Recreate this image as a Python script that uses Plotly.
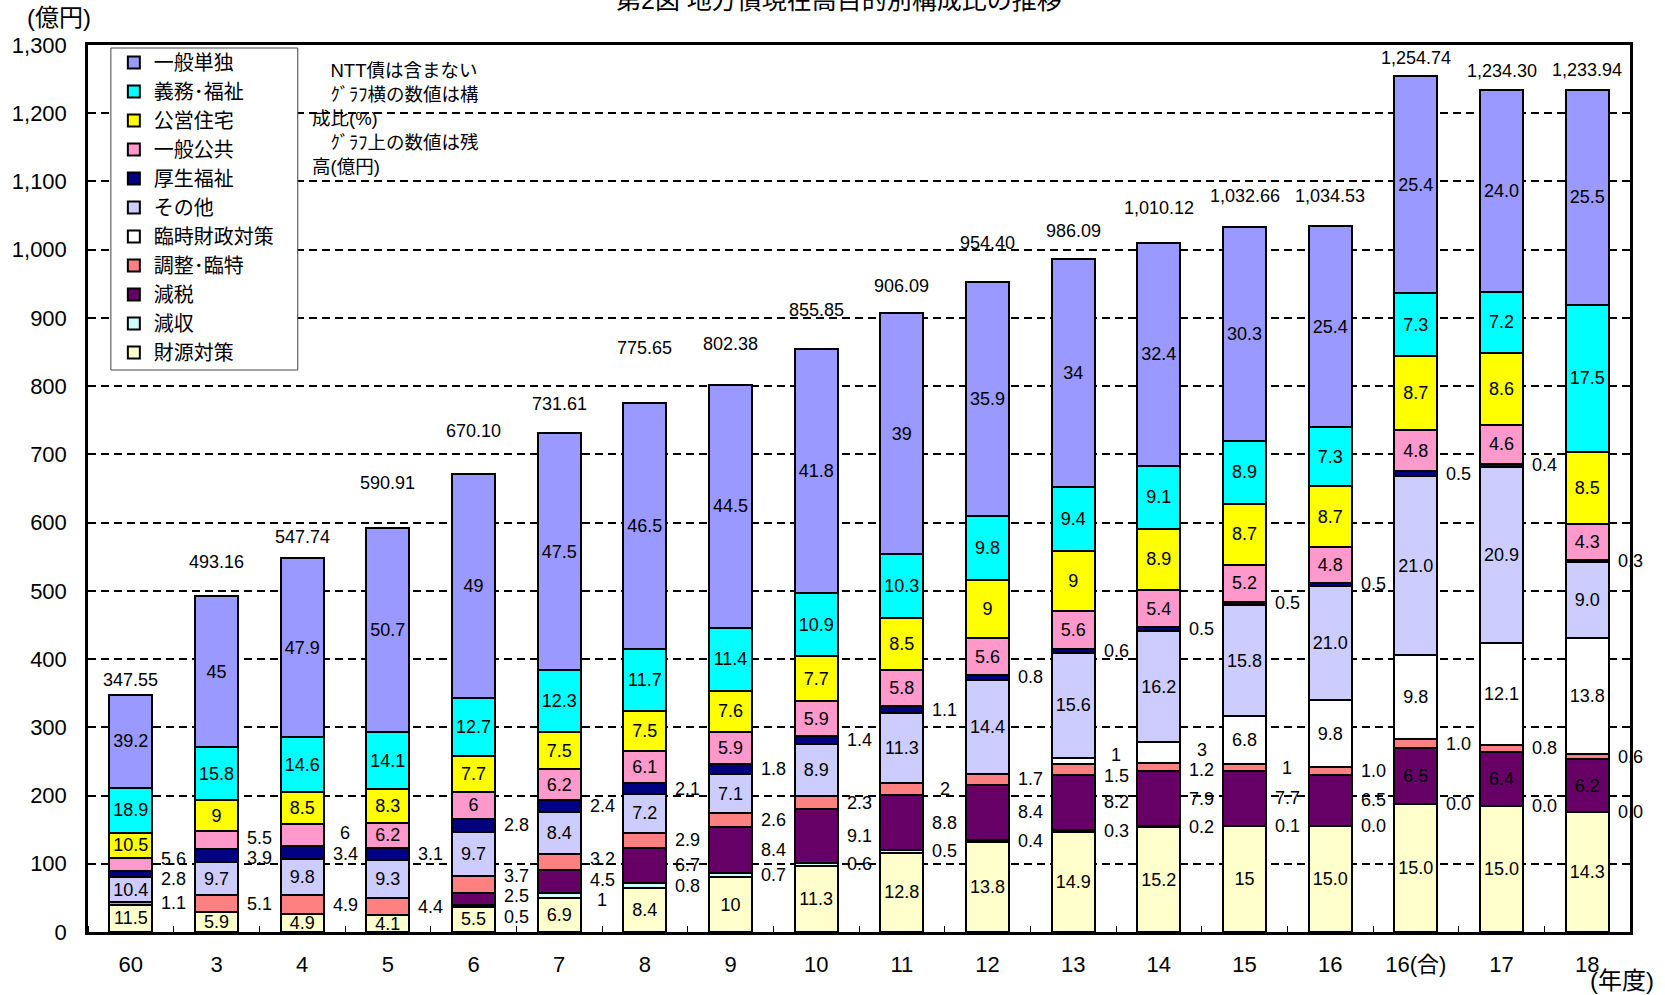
import plotly.graph_objects as go

# ---------------- data ----------------
categories = ["60", "3", "4", "5", "6", "7", "8", "9", "10", "11", "12", "13",
              "14", "15", "16", "16(合)", "17", "18"]
totals = [347.55, 493.16, 547.74, 590.91, 670.10, 731.61, 775.65, 802.38, 855.85,
          906.09, 954.40, 986.09, 1010.12, 1032.66, 1034.53, 1254.74, 1234.30, 1233.94]

# composition ratios (%) per purpose as drawn, bottom of stack first
zaigen_taisaku = [11.5, 5.9, 4.9, 4.1, 5.5, 6.9, 8.4, 10, 11.3, 12.8, 13.8, 14.9, 15.2, 15, 15.0, 15.0, 15.0, 14.3]
genshu = [None, None, None, None, 0.5, 1, 0.8, 0.7, 0.6, 0.5, 0.4, 0.3, 0.2, 0.1, 0.0, 0.0, 0.0, 0.0]
genzei = [None, None, None, None, 2.5, 4.5, 6.7, 8.4, 9.1, 8.8, 8.4, 8.2, 7.9, 7.7, 7.3, 6.5, 6.4, 6.2]
chosei_rintoku = [1.1, 5.1, 4.9, 4.4, 3.7, 3.2, 2.9, 2.6, 2.3, 2, 1.7, 1.5, 1.2, 1, 1.1, 1.0, 0.8, 0.6]
rinji_zaisei = [None] * 11 + [1, 3, 6.8, 9.4, 9.8, 12.1, 13.8]
sonota = [10.4, 9.7, 9.8, 9.3, 9.7, 8.4, 7.2, 7.1, 8.9, 11.3, 14.4, 15.6, 16.2, 15.8, 16.2, 21.0, 20.9, 9.0]
kosei_fukushi = [2.8, 3.9, 3.4, 3.1, 2.8, 2.4, 2.1, 1.8, 1.4, 1.1, 0.8, 0.6, 0.5, 0.5, 0.5, 0.5, 0.4, 0.3]
ippan_kokyo = [5.6, 5.5, 6, 6.2, 6, 6.2, 6.1, 5.9, 5.9, 5.8, 5.6, 5.6, 5.4, 5.2, 5.0, 4.8, 4.6, 4.3]
koei_jutaku = [10.5, 9, 8.5, 8.3, 7.7, 7.5, 7.5, 7.6, 7.7, 8.5, 9, 9, 8.9, 8.7, 8.7, 8.7, 8.6, 8.5]
gimu_fukushi = [18.9, 15.8, 14.6, 14.1, 12.7, 12.3, 11.7, 11.4, 10.9, 10.3, 9.8, 9.4, 9.1, 8.9, 8.3, 7.3, 7.2, 17.5]
ippan_tandoku = [39.2, 45, 47.9, 50.7, 49, 47.5, 46.5, 44.5, 41.8, 39, 35.9, 34, 32.4, 30.3, 28.5, 25.4, 24.0, 25.5]

# ratios printed on the FY16 bar in the source chart (same figures as 16(合)), bottom first
printed_fy16 = [15.0, 0.0, 6.5, 1.0, 9.8, 21.0, 0.5, 4.8, 8.7, 7.3, 25.4]
FY16_INDEX = 14

series = [
    ("財源対策", zaigen_taisaku),
    ("減収", genshu),
    ("減税", genzei),
    ("調整･臨特", chosei_rintoku),
    ("臨時財政対策", rinji_zaisei),
    ("その他", sonota),
    ("厚生福祉", kosei_fukushi),
    ("一般公共", ippan_kokyo),
    ("公営住宅", koei_jutaku),
    ("義務･福祉", gimu_fukushi),
    ("一般単独", ippan_tandoku),
]

# ---------------- style ----------------
colors = {
    "財源対策": "#FFFFCC", "減収": "#CCFFFF", "減税": "#660066", "調整･臨特": "#FF8080",
    "臨時財政対策": "#FFFFFF", "その他": "#CCCCFF", "厚生福祉": "#000080",
    "一般公共": "#FF99CC", "公営住宅": "#FFFF00", "義務･福祉": "#00FFFF", "一般単独": "#9999FF",
}
# first category index from which the ratio label is written inside the bar (None = always beside)
inside_from = {
    "財源対策": 0, "減収": None, "減税": 15, "調整･臨特": None, "臨時財政対策": 13,
    "その他": 0, "厚生福祉": None, "一般公共": 3, "公営住宅": 0, "義務･福祉": 0, "一般単独": 0,
}
total_lift = [15, 34, 21, 46, 44, 29, 55, 41, 38, 28, 38, 28, 35, 31, 30, 18, 19, 20]

FONT = "Liberation Sans, Arial, Noto Sans CJK JP, sans-serif"
W, H = 1665, 995
L, R, T, B = 79, 35, 45, 63
PW, PH = W - L - R, H - T - B
YMAX = 1300


def px(xpix):
    return (xpix - L) / PW


def py(ypix):
    return (H - B - ypix) / PH


def fmt(v, i):
    return f"{v:.1f}" if i >= 14 else f"{v:g}"


fig = go.Figure()
x = list(range(len(categories)))
side_labels = {i: [] for i in x}
base = [0.0] * len(categories)

for k, (name, vals) in enumerate(series):
    heights, texts = [], []
    for i, v in enumerate(vals):
        if v is None:
            heights.append(None)
            texts.append("")
            continue
        h = totals[i] * v / 100.0
        heights.append(h)
        shown = printed_fy16[k] if i == FY16_INDEX else v
        start = inside_from[name]
        if start is not None and i >= start:
            texts.append(fmt(shown, i))
        else:
            texts.append("")
            side_labels[i].append((base[i] + h / 2.0, fmt(shown, i)))
        base[i] += h
    fig.add_trace(go.Bar(
        x=x, y=heights, name=name, legendgroup=name,
        marker=dict(color=colors[name], line=dict(color="black", width=2)),
        text=texts, textposition="inside", insidetextanchor="middle", textangle=0,
        textfont=dict(family=FONT, size=18, color="black"),
        width=0.5, hoverinfo="skip",
    ))


def spread(targets, gap, lo):
    clusters = [[t] for t in sorted(targets)]

    def place(c):
        n = len(c)
        center = sum(c) / n
        bottom = max(center - (n - 1) * gap / 2.0, lo)
        return [bottom + k * gap for k in range(n)]

    changed = True
    while changed:
        changed = False
        for j in range(len(clusters) - 1):
            a, b = place(clusters[j]), place(clusters[j + 1])
            if a[-1] + gap > b[0]:
                clusters[j] = clusters[j] + clusters[j + 1]
                del clusters[j + 1]
                changed = True
                break
    out = []
    for c in clusters:
        out += place(c)
    return out


annotations = []
for i in x:
    labs = sorted(side_labels[i], key=lambda t: t[0])
    if labs:
        ys = spread([t[0] for t in labs], 30.0, 15.0)
        for (yt, txt), yy in zip(labs, ys):
            annotations.append(dict(x=i + 0.5, y=yy, xref="x", yref="y", text=txt,
                                    showarrow=False, font=dict(family=FONT, size=18, color="black")))
    annotations.append(dict(x=i, y=totals[i], xref="x", yref="y", text=f"{totals[i]:,.2f}",
                            showarrow=False, yshift=total_lift[i], yanchor="middle",
                            font=dict(family=FONT, size=18, color="black")))

annotations += [
    dict(x=px(834), y=py(0), xref="paper", yref="paper", text="第2図 地方債現在高目的別構成比の推移",
         showarrow=False, xanchor="center", yanchor="middle",
         font=dict(family=FONT, size=25, color="black")),
    dict(x=px(50), y=py(18), xref="paper", yref="paper", text="(億円)", showarrow=False,
         xanchor="center", yanchor="middle", font=dict(family=FONT, size=24, color="black")),
    dict(x=px(1622), y=py(980), xref="paper", yref="paper", text="(年度)", showarrow=False,
         xanchor="center", yanchor="middle", font=dict(family=FONT, size=24, color="black")),
    dict(x=px(302), y=py(58), xref="paper", yref="paper", align="left",
         text="　NTT債は含まない<br>　ｸﾞﾗﾌ横の数値は構<br>成比(%)<br>　ｸﾞﾗﾌ上の数値は残<br>高(億円)",
         showarrow=False, xanchor="left", yanchor="top",
         font=dict(family=FONT, size=18.5, color="black")),
]

# legend frame (drawn as a shape so its width matches the original box)
shapes = [dict(type="rect", xref="paper", yref="paper", x0=px(102), x1=px(290), y0=py(370), y1=py(48),
               line=dict(color="#444", width=1), fillcolor="white", layer="above")]

fig.update_layout(
    width=W, height=H,
    margin=dict(l=L, r=R, t=T, b=B, pad=0),
    barmode="stack",
    plot_bgcolor="white", paper_bgcolor="white",
    font=dict(family=FONT, color="black"),
    showlegend=True,
    legend=dict(x=px(105), y=py(43), xanchor="left", yanchor="top",
                traceorder="reversed", bgcolor="rgba(0,0,0,0)", borderwidth=0,
                font=dict(family=FONT, size=20, color="black"), itemclick=False),
    annotations=annotations,
    shapes=shapes,
    uniformtext=dict(minsize=18, mode="show"),
    xaxis=dict(range=[-0.5, len(categories) - 0.5], tickmode="array", tickvals=x, ticktext=categories,
               showgrid=False, zeroline=False, showline=True, linecolor="black", linewidth=2.5,
               mirror=True, ticks="", ticklabelstandoff=11,
               tickfont=dict(family=FONT, size=22, color="black"),
               minor=dict(tickmode="linear", tick0=0.5, dtick=1, ticks="inside", ticklen=6,
                          tickwidth=1, tickcolor="black", showgrid=False)),
    yaxis=dict(range=[0, YMAX], tickmode="linear", tick0=0, dtick=100, tickformat=",d",
               showgrid=True, gridcolor="black", gridwidth=1.5, griddash="8px,5px",
               zeroline=False, showline=True, linecolor="black", linewidth=2.5, mirror=True,
               ticks="", ticklabelstandoff=14,
               tickfont=dict(family=FONT, size=22, color="black")),
)

fig.write_html("out.html", config={"displayModeBar": False},
               post_script="document.body.style.margin='0';document.body.style.overflow='hidden';")
